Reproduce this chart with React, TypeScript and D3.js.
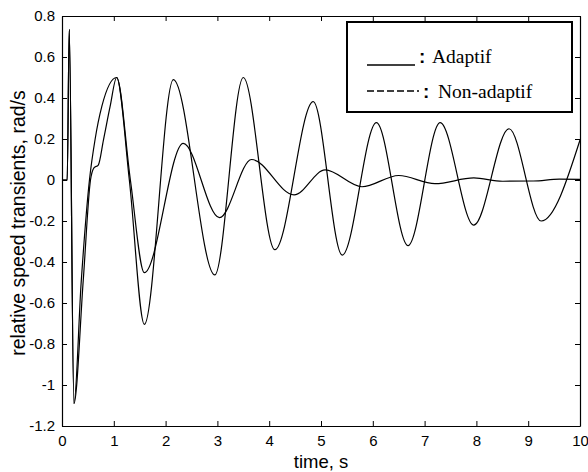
import React, { useEffect, useRef } from 'react';
import * as d3 from 'd3';

// curve with the larger, slowly decaying oscillation
const bigTimes = [0, 0.1, 0.14, 0.23, 0.37, 0.53, 0.64, 0.77, 1.055, 1.3, 1.59, 2.15, 2.95, 3.5, 4.11, 4.85, 5.41, 6.07, 6.68, 7.3, 7.95, 8.63, 9.25, 10];
const bigValues = [0, 0, 0.735, -1.09, -0.5, 0, 0.2, 0.36, 0.5, 0, -0.704, 0.49, -0.463, 0.5, -0.34, 0.382, -0.366, 0.28, -0.32, 0.28, -0.22, 0.25, -0.2, 0.195];

// curve with the quickly damped oscillation
const smallTimes = [0, 0.1, 0.14, 0.23, 0.41, 0.55, 0.62, 0.7, 0.8, 0.93, 1.055, 1.32, 1.59, 2.34, 3.04, 3.66, 4.48, 5.08, 5.79, 6.5, 7.2, 7.95, 8.5, 9.1, 9.6, 10];
const smallValues = [0, 0, 0.735, -1.09, -0.49, 0, 0.06, 0.073, 0.195, 0.36, 0.5, 0, -0.452, 0.179, -0.184, 0.1, -0.073, 0.049, -0.033, 0.022, -0.018, 0.01, -0.006, -0.005, 0.004, 0.003];

const xTicks = [0, 1, 2, 3, 4, 5, 6, 7, 8, 9, 10];
const yTicks = [-1.2, -1, -0.8, -0.6, -0.4, -0.2, 0, 0.2, 0.4, 0.6, 0.8];
const legendLabels = ['Adaptif', 'Non-adaptif'];

const W = 588;
const H = 472;
const margin = { top: 16, right: 8, bottom: 46, left: 62 };

export default function App() {
  const ref = useRef<SVGSVGElement>(null);

  useEffect(() => {
    const width = W - margin.left - margin.right;
    const height = H - margin.top - margin.bottom;

    const x = d3.scaleLinear().domain([0, 10]).range([0, width]);
    const y = d3.scaleLinear().domain([-1.2, 0.8]).range([height, 0]);

    const root = d3.select(ref.current);
    root.selectAll('*').remove();

    const svg = root.append('g').attr('transform', `translate(${margin.left},${margin.top})`);

    // Axes on all four sides, ticks pointing inward
    const font = 'Liberation Sans, Arial, sans-serif';
    const bottom = svg
      .append('g')
      .attr('transform', `translate(0,${height})`)
      .call(d3.axisBottom(x).tickValues(xTicks).tickSizeInner(-5).tickSizeOuter(0).tickPadding(9).tickFormat(d3.format('d')));
    const top = svg
      .append('g')
      .call(d3.axisTop(x).tickValues(xTicks).tickSizeInner(-5).tickSizeOuter(0).tickFormat(() => ''));
    const left = svg
      .append('g')
      .call(d3.axisLeft(y).tickValues(yTicks).tickSizeInner(-5).tickSizeOuter(0).tickPadding(7).tickFormat(d => `${+(+d).toFixed(1)}`));
    const right = svg
      .append('g')
      .attr('transform', `translate(${width},0)`)
      .call(d3.axisRight(y).tickValues(yTicks).tickSizeInner(-5).tickSizeOuter(0).tickFormat(() => ''));

    [bottom, top, left, right].forEach(g => {
      g.select('.domain').attr('stroke', '#000').attr('stroke-width', 1.2);
      g.selectAll('.tick line').attr('stroke', '#000');
      g.selectAll('text').style('font-family', font).style('font-size', '15px').attr('fill', '#000');
    });

    // Curves
    const line = d3
      .line<[number, number]>()
      .x(d => x(d[0]))
      .y(d => y(d[1]))
      .curve(d3.curveMonotoneX);

    const big: [number, number][] = bigTimes.map((t, i) => [t, bigValues[i]]);
    const small: [number, number][] = smallTimes.map((t, i) => [t, smallValues[i]]);

    svg
      .selectAll('.curve')
      .data([big, small])
      .enter()
      .append('path')
      .attr('class', 'curve')
      .attr('d', d => line(d))
      .attr('fill', 'none')
      .attr('stroke', '#000')
      .attr('stroke-width', 1.2);

    // Axis labels
    svg
      .append('text')
      .attr('x', width / 2)
      .attr('y', height + 42)
      .attr('text-anchor', 'middle')
      .style('font-family', font)
      .style('font-size', '18.5px')
      .text('time, s');

    svg
      .append('text')
      .attr('transform', `translate(${-37},${height / 2 + 2}) rotate(-90)`)
      .attr('text-anchor', 'middle')
      .style('font-family', font)
      .style('font-size', '19.5px')
      .text('relative speed transients, rad/s');

    // Legend
    const legend = svg.append('g').attr('transform', `translate(${347 - margin.left},${22 - margin.top})`);
    legend
      .append('rect')
      .attr('width', 225)
      .attr('height', 90)
      .attr('fill', '#fff')
      .attr('stroke', '#000')
      .attr('stroke-width', 2);

    const rows = [
      { y: 43, dash: null, colonX: 72, textX: 85, base: 41 },
      { y: 69, dash: '7,3', colonX: 76, textX: 91, base: 76 }
    ];
    rows.forEach((r, i) => {
      legend
        .append('line')
        .attr('x1', 20)
        .attr('x2', i === 0 ? 68 : 72)
        .attr('y1', r.y)
        .attr('y2', r.y)
        .attr('stroke', '#000')
        .attr('stroke-width', 1.4)
        .attr('stroke-dasharray', r.dash);
      legend
        .append('text')
        .attr('x', r.colonX)
        .attr('y', r.base)
        .style('font-family', font)
        .style('font-size', '19px')
        .style('font-weight', 'bold')
        .text(':');
      legend
        .append('text')
        .attr('x', r.textX)
        .attr('y', r.base)
        .style('font-family', 'Liberation Serif, Times New Roman, serif')
        .style('font-size', '19.5px')
        .text(legendLabels[i]);
    });
  }, []);

  return (
    <div style={{ position: 'absolute', left: 0, top: 0 }}>
      <svg ref={ref} width={W} height={H} style={{ display: 'block', background: '#fff' }} />
    </div>
  );
}
